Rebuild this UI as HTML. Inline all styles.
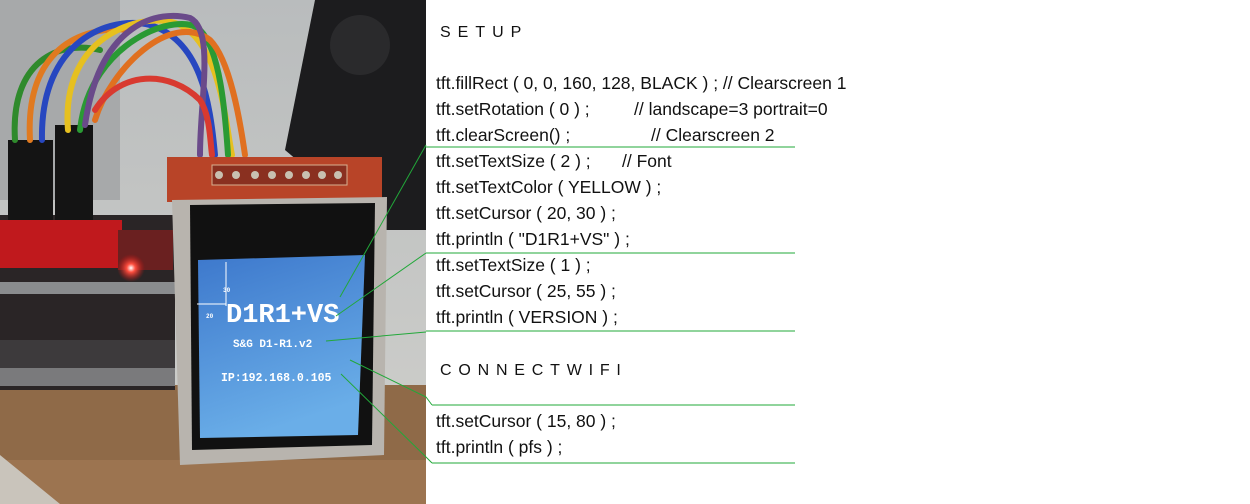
<!DOCTYPE html>
<html><head><meta charset="utf-8"><style>
html,body{margin:0;padding:0;background:#fff;width:1250px;height:504px;overflow:hidden}
svg{display:block}
.t{font-family:"Liberation Sans",sans-serif;font-size:17.5px;fill:#111}
</style></head><body>
<svg width="1250" height="504" viewBox="0 0 1250 504" xmlns="http://www.w3.org/2000/svg">
<defs>
<linearGradient id="scr" x1="0" y1="0" x2="0.3" y2="1">
<stop offset="0" stop-color="#3d78cc"/><stop offset="1" stop-color="#6aaee8"/></linearGradient>
<linearGradient id="bg" x1="0" y1="0" x2="0" y2="1">
<stop offset="0" stop-color="#b9bcbd"/><stop offset="1" stop-color="#d0d0cc"/></linearGradient>
<radialGradient id="led" cx="0.5" cy="0.5" r="0.5"><stop offset="0" stop-color="#fff"/><stop offset="0.3" stop-color="#ff5040"/><stop offset="1" stop-color="#c01010" stop-opacity="0"/></radialGradient>
</defs>
<rect x="0" y="0" width="426" height="504" fill="url(#bg)"/>
<rect x="0" y="0" width="120" height="200" fill="#a7a9aa"/>
<polygon points="315,0 426,0 426,230 380,230 285,150" fill="#1c1c1e"/>
<circle cx="360" cy="45" r="30" fill="#2a2a2c"/>
<rect x="0" y="385" width="426" height="119" fill="#8f6a48"/>
<rect x="0" y="460" width="426" height="44" fill="#9c7450"/>
<polygon points="0,455 60,504 0,504" fill="#c9c4bb"/>
<rect x="0" y="215" width="175" height="175" fill="#2a2526"/>
<rect x="0" y="220" width="122" height="48" fill="#c0191d"/>
<rect x="118" y="230" width="55" height="40" fill="#6a2020"/>
<rect x="0" y="282" width="175" height="12" fill="#8a8c8e"/>
<rect x="0" y="340" width="175" height="45" fill="#3d3a3c"/>
<rect x="0" y="368" width="175" height="18" fill="#7a7a7c"/>
<circle cx="131" cy="268" r="14" fill="url(#led)"/>
<rect x="8" y="140" width="45" height="80" fill="#141414"/>
<rect x="55" y="125" width="38" height="95" fill="#141414"/>
<g fill="none" stroke-width="6" stroke-linecap="round">
<path d="M15,140 C10,60 60,40 100,50" stroke="#2f8a2c"/>
<path d="M30,140 C25,50 80,25 130,30" stroke="#e07a20"/>
<path d="M42,140 C40,40 110,15 150,25 C200,40 210,100 215,155" stroke="#2747c0"/>
<path d="M68,130 C60,30 150,10 180,25 C220,45 225,120 232,155" stroke="#e6c020"/>
<path d="M80,130 C90,40 180,10 200,30 C220,50 225,110 228,155" stroke="#2a9a34"/>
<path d="M95,120 C110,70 170,10 210,40 C230,60 240,120 245,155" stroke="#e07020"/>
<path d="M85,125 C100,20 160,10 190,18 C215,30 200,100 200,155" stroke="#6a4a8a"/>
<path d="M95,110 C120,70 170,70 200,100 C210,115 210,140 212,155" stroke="#d83a30"/>
</g>
<rect x="167" y="157" width="215" height="45" fill="#b84428"/>
<rect x="212" y="165" width="135" height="20" fill="#8a3020" stroke="#d8b090" stroke-width="1"/>
<g fill="#c8c0b0"><circle cx="219" cy="175" r="4"/><circle cx="236" cy="175" r="4"/><circle cx="255" cy="175" r="4"/><circle cx="272" cy="175" r="4"/><circle cx="289" cy="175" r="4"/><circle cx="306" cy="175" r="4"/><circle cx="322" cy="175" r="4"/><circle cx="338" cy="175" r="4"/></g>
<polygon points="172,200 387,197 384,455 180,465" fill="#b8b4ae"/>
<polygon points="190,205 375,203 372,445 192,450" fill="#111"/>
<polygon points="198,260 365,255 358,435 200,438" fill="url(#scr)"/>
<g font-family="Liberation Mono,monospace" font-weight="bold" fill="#fff">
<text x="226" y="322" font-size="27">D1R1+VS</text>
<text x="233" y="347" font-size="11">S&amp;G D1-R1.v2</text>
<text x="221" y="381" font-size="11.5">IP:192.168.0.105</text>
<text x="223" y="292" font-size="6">30</text>
<text x="206" y="318" font-size="6">20</text>
</g>
<g stroke="#fff" stroke-width="1"><line x1="226" y1="262" x2="226" y2="306"/><line x1="197" y1="304" x2="226" y2="304"/></g>
<g stroke="#22a83a" stroke-width="1" fill="none">
<line x1="340" y1="297" x2="426" y2="145"/>
<line x1="336" y1="316" x2="426" y2="253"/>
<line x1="326" y1="341" x2="426" y2="332"/>
<polyline points="350,360 426,397 432,405"/>
<polyline points="341,374 426,457 432,463"/>
<line x1="426" y1="147" x2="795" y2="147"/>
<line x1="426" y1="253" x2="795" y2="253"/>
<line x1="426" y1="331" x2="795" y2="331"/>
<line x1="432" y1="405" x2="795" y2="405"/>
<line x1="432" y1="463" x2="795" y2="463"/>
</g>
<g class="t">
<text x="440" y="37" letter-spacing="7" font-size="16">SETUP</text>
<text x="436" y="89">tft.fillRect ( 0, 0, 160, 128, BLACK ) ; // Clearscreen 1</text>
<text x="436" y="115">tft.setRotation ( 0 ) ;</text>
<text x="634" y="115">//  landscape=3 portrait=0</text>
<text x="436" y="141">tft.clearScreen() ;</text>
<text x="651" y="141">// Clearscreen 2</text>
<text x="436" y="167">tft.setTextSize ( 2 ) ;</text>
<text x="622" y="167">// Font</text>
<text x="436" y="193">tft.setTextColor ( YELLOW ) ;</text>
<text x="436" y="219">tft.setCursor ( 20, 30 ) ;</text>
<text x="436" y="245">tft.println ( "D1R1+VS" ) ;</text>
<text x="436" y="271">tft.setTextSize ( 1 ) ;</text>
<text x="436" y="297">tft.setCursor ( 25, 55 ) ;</text>
<text x="436" y="323">tft.println ( VERSION ) ;</text>
<text x="440" y="375" letter-spacing="6.8" font-size="16">CONNECTWIFI</text>
<text x="436" y="427">tft.setCursor ( 15, 80 ) ;</text>
<text x="436" y="453">tft.println ( pfs ) ;</text>
</g>
</svg>
</body></html>
